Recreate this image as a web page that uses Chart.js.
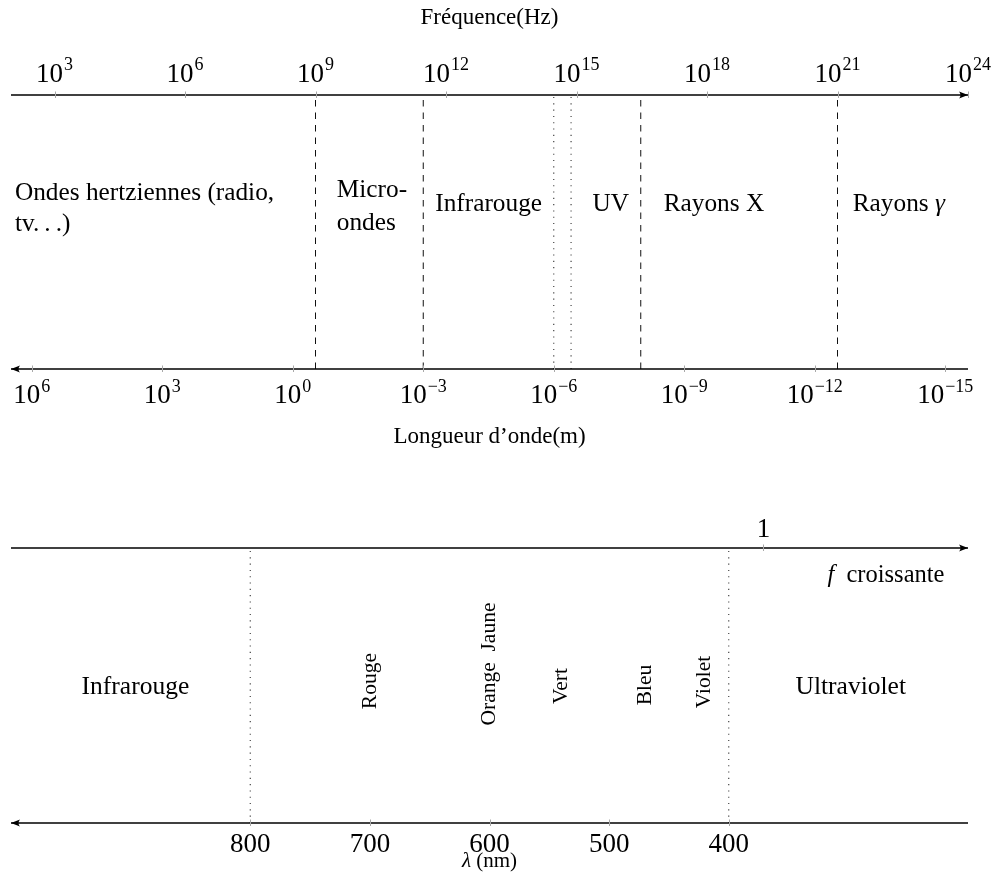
<!DOCTYPE html>
<html>
<head>
<meta charset="utf-8">
<script src="https://cdn.jsdelivr.net/npm/chart.js@4"></script>
<style>
  html, body { margin: 0; padding: 0; background: #fff; }
  canvas { position: absolute; left: 0; }
  #c1 { top: 0; }
  #c2 { top: 460px; }
</style>
</head>
<body>
<canvas id="c1" width="994" height="460"></canvas>
<canvas id="c2" width="994" height="414"></canvas>
<script>
// ---------------- DATA ----------------
const LIGHT_SPEED = 3e8;                                   // m/s
const freqTickExponents = [3, 6, 9, 12, 15, 18, 21, 24];   // top axis : 10^n Hz
const wavelengthTickExponents = [6, 3, 0, -3, -6, -9, -12, -15]; // bottom axis : 10^n m
const dashedBoundariesHz = [1e9, 3e11, 3e16, 1e21];
const dottedBoundariesHz = [3e14, 7.5e14];
const domainNames = ['Ondes hertziennes (radio,\ntv.\u2009.\u2009.)', 'Micro-\nondes', 'Infrarouge', 'UV', 'Rayons X', 'Rayons _\u03b3_'];
const domainLogFreq = [2.09, 9.49, 12.98, 15.79, 18.16, 22.41];

const visibleTicksNm = [800, 700, 600, 500, 400];
const visibleBoundsNm = [800, 400];
const visibleColorNames = ['Rouge', 'Orange Jaune', 'Vert', 'Bleu', 'Violet'];
const visibleColorCentersNm = [700, 600, 540, 470, 420];
const outerNames = ['Infrarouge', 'Ultraviolet'];
const outerCentersNm = [896, 298];
const upperAxisTickNm = [371];
const upperAxisTickLabels = ['1'];

// ---------------- STYLE / LAYOUT ----------------
const SERIF = '"Liberation Serif", "DejaVu Serif", serif';
const TEXT = '#000';
const domainAlign = ['left', 'left', 'center', 'center', 'center', 'center'];
const domainBaselineY = [0.617, 0.628, 0.577, 0.577, 0.577, 0.577];
const domainLineGap = [31, 33, 0, 0, 0, 0];
const colorLabelY = [0.516, 0.578, 0.498, 0.502, 0.513];

function fontFor(size, italic) { return (italic ? 'italic ' : '') + size + 'px ' + SERIF; }
function parseRuns(s) { return s.split('_').map((t, i) => ({ t, i: i % 2 === 1 })).filter(r => r.t.length); }
function drawRuns(ctx, s, x, y, size, align) {
  const runs = parseRuns(s);
  let w = 0;
  runs.forEach(r => { ctx.font = fontFor(size, r.i); w += ctx.measureText(r.t).width; });
  let cx = align === 'center' ? x - w / 2 : (align === 'right' ? x - w : x);
  ctx.textAlign = 'left'; ctx.textBaseline = 'alphabetic'; ctx.fillStyle = TEXT;
  runs.forEach(r => { ctx.font = fontFor(size, r.i); ctx.fillText(r.t, cx, y); cx += ctx.measureText(r.t).width; });
}
function drawPower(ctx, exp, x, baseY, supY) {
  const base = '10', sup = exp < 0 ? '\u2212' + Math.abs(exp) : String(exp);
  ctx.font = fontFor(27, false); const wb = ctx.measureText(base).width;
  ctx.font = fontFor(18, false); const ws = ctx.measureText(sup).width;
  const gap = 1;
  let sx = x - (wb + gap + ws) / 2;
  ctx.textAlign = 'left'; ctx.textBaseline = 'alphabetic'; ctx.fillStyle = TEXT;
  ctx.font = fontFor(27, false); ctx.fillText(base, sx, baseY);
  ctx.font = fontFor(18, false); ctx.fillText(sup, sx + wb + gap, supY);
}
function tickMark(ctx, px, py) {
  ctx.save(); ctx.strokeStyle = '#a8a8a8'; ctx.lineWidth = 1;
  const x = Math.round(px) + 0.5;
  ctx.beginPath(); ctx.moveTo(x, py - 3.5); ctx.lineTo(x, py + 3); ctx.stroke(); ctx.restore();
}
function arrowHead(ctx, tipX, y, dir) {
  ctx.save(); ctx.fillStyle = '#000';
  ctx.beginPath();
  ctx.moveTo(tipX, y);
  ctx.lineTo(tipX - dir * 9, y - 3.6);
  ctx.quadraticCurveTo(tipX - dir * 6, y, tipX - dir * 9, y + 3.6);
  ctx.closePath(); ctx.fill(); ctx.restore();
}
function vline(xv, style) {
  return {
    data: [{ x: xv, y: 0 }, { x: xv, y: 1 }],
    showLine: true, pointRadius: 0, clip: false,
    borderColor: style === 'dash' ? '#111' : '#333',
    borderWidth: style === 'dash' ? 1 : 1.1,
    borderDash: style === 'dash' ? [6.5, 6] : [1.1, 5.2]
  };
}
function hline(x0, x1, yv) {
  return { data: [{ x: x0, y: yv }, { x: x1, y: yv }], showLine: true, pointRadius: 0, clip: false, borderColor: '#000', borderWidth: 1.3 };
}

// ---------------- CHART 1 : spectre complet ----------------
const spectrumDecor = {
  id: 'spectrumDecor',
  afterDatasetsDraw(chart) {
    const { ctx, chartArea: a, scales: { x, y } } = chart;
    const yTop = y.getPixelForValue(1), yBot = y.getPixelForValue(0);
    const midX = (a.left + a.right) / 2;
    arrowHead(ctx, x.getPixelForValue(1e24), yTop, 1);
    arrowHead(ctx, x.getPixelForValue(1e2), yBot, -1);
    freqTickExponents.forEach(e => {
      const px = x.getPixelForValue(Math.pow(10, e));
      tickMark(ctx, px, yTop);
      drawPower(ctx, e, px, yTop - 13, yTop - 25);
    });
    wavelengthTickExponents.forEach(e => {
      const px = x.getPixelForValue(LIGHT_SPEED / Math.pow(10, e));
      tickMark(ctx, px, yBot);
      drawPower(ctx, e, px, yBot + 34, yBot + 23);
    });
    drawRuns(ctx, 'Fréquence(Hz)', midX, 24, 23, 'center');
    drawRuns(ctx, 'Longueur d\u2019onde(m)', midX, yBot + 74, 23, 'center');
    domainNames.forEach((name, i) => {
      const px = x.getPixelForValue(Math.pow(10, domainLogFreq[i]));
      const py = y.getPixelForValue(domainBaselineY[i]);
      name.split('\n').forEach((line, k) => drawRuns(ctx, line, px, py + k * domainLineGap[i], 25.3, domainAlign[i]));
    });
  }
};

new Chart(document.getElementById('c1'), {
  type: 'scatter',
  data: {
    datasets: [
      hline(1e2, 1e24, 1),
      hline(1e2, 1e24, 0),
      ...dashedBoundariesHz.map(f => vline(f, 'dash')),
      ...dottedBoundariesHz.map(f => vline(f, 'dot'))
    ]
  },
  options: {
    responsive: false, animation: false, events: [],
    layout: { padding: { left: 11, right: 26, top: 95, bottom: 91 } },
    plugins: { legend: { display: false }, tooltip: { enabled: false } },
    scales: {
      x: { type: 'logarithmic', min: 1e2, max: 1e24, display: false },
      y: { type: 'linear', min: 0, max: 1, display: false }
    }
  },
  plugins: [spectrumDecor]
});

// ---------------- CHART 2 : domaine visible ----------------
const visibleDecor = {
  id: 'visibleDecor',
  afterDatasetsDraw(chart) {
    const { ctx, scales: { x, y } } = chart;
    const yTop = y.getPixelForValue(1), yBot = y.getPixelForValue(0);
    arrowHead(ctx, x.getPixelForValue(200), yTop, 1);
    arrowHead(ctx, x.getPixelForValue(1000), yBot, -1);
    upperAxisTickNm.forEach((v, i) => {
      const px = x.getPixelForValue(v);
      tickMark(ctx, px, yTop);
      drawRuns(ctx, upperAxisTickLabels[i], px, yTop - 11, 27, 'center');
    });
    drawRuns(ctx, '_f_\u2002croissante', x.getPixelForValue(317.5), yTop + 34, 24.5, 'left');
    visibleTicksNm.forEach(v => {
      const px = x.getPixelForValue(v);
      tickMark(ctx, px, yBot);
      drawRuns(ctx, String(v), px, yBot + 29, 27, 'center');
    });
    drawRuns(ctx, '_\u03bb_ (nm)', x.getPixelForValue(600), yBot + 44, 21, 'center');
    outerNames.forEach((n, i) => drawRuns(ctx, n, x.getPixelForValue(outerCentersNm[i]), y.getPixelForValue(0.469), 25.5, 'center'));
    visibleColorNames.forEach((n, i) => {
      const px = x.getPixelForValue(visibleColorCentersNm[i]);
      const py = y.getPixelForValue(colorLabelY[i]);
      ctx.save();
      ctx.translate(px, py); ctx.rotate(-Math.PI / 2);
      ctx.font = fontFor(21.5, false); ctx.fillStyle = TEXT;
      ctx.textAlign = 'center'; ctx.textBaseline = 'middle';
      ctx.fillText(n.replace(' ', '\u2002'), 0, 0);
      ctx.restore();
    });
  }
};

new Chart(document.getElementById('c2'), {
  type: 'scatter',
  data: {
    datasets: [
      hline(1000, 200, 1),
      hline(1000, 200, 0),
      ...visibleBoundsNm.map(v => vline(v, 'dot'))
    ]
  },
  options: {
    responsive: false, animation: false, events: [],
    layout: { padding: { left: 11, right: 26, top: 88, bottom: 51 } },
    plugins: { legend: { display: false }, tooltip: { enabled: false } },
    scales: {
      x: { type: 'linear', min: 200, max: 1000, reverse: true, display: false },
      y: { type: 'linear', min: 0, max: 1, display: false }
    }
  },
  plugins: [visibleDecor]
});
</script>
</body>
</html>
